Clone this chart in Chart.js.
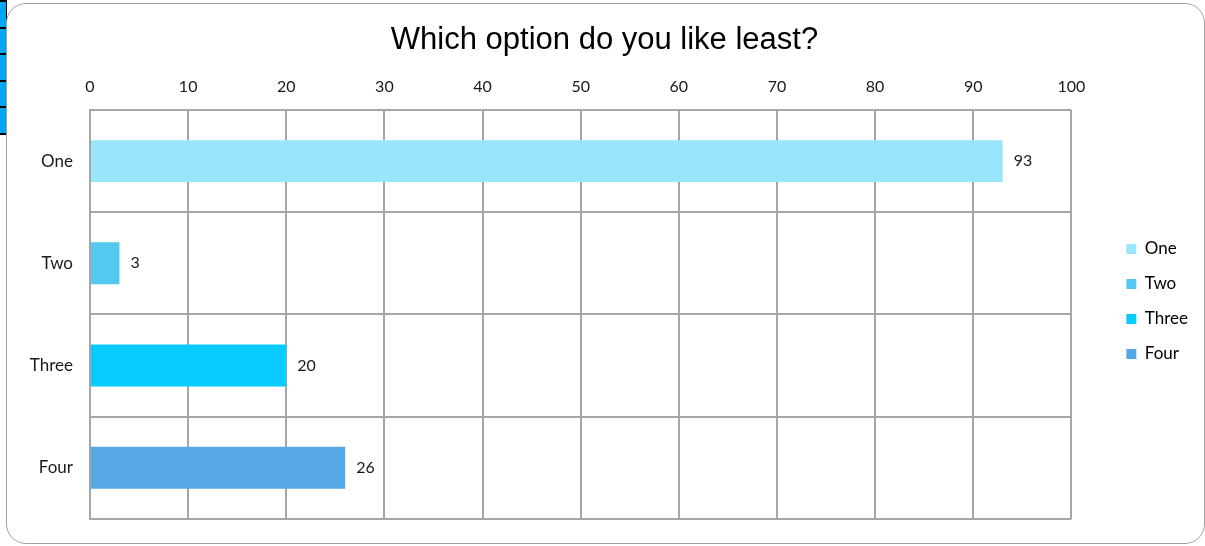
<!DOCTYPE html>
<html>
<head>
<meta charset="utf-8">
<script src="https://cdn.jsdelivr.net/npm/chart.js@4"></script>
<style>
  html, body { margin: 0; padding: 0; background: #fff; }
  body { width: 1205px; height: 546px; position: relative; overflow: hidden; }
  #strip {
    position: absolute; left: 0; top: 0; width: 6px; height: 135px;
    background: repeating-linear-gradient(to bottom, #000 0, #000 2px, #00a6ee 2px, #00a6ee 26.6px);
    border-right: 1px solid #000;
  }
  #card {
    position: absolute; left: 6px; top: 3px; width: 1199px; height: 541px;
    border: 1px solid #a0a0a0; border-radius: 20px; box-sizing: border-box; background: #fff;
  }
  #wrap { position: absolute; left: 0; top: 0; width: 1205px; height: 546px; }
</style>
</head>
<body>
<div id="strip"></div>
<div id="card"></div>
<div id="wrap"><canvas id="myChart" width="1205" height="546"></canvas></div>
<script>
const categories = ['One', 'Two', 'Three', 'Four'];
const values = [93, 3, 20, 26];
const barColors = ['#99e5fc', '#55c8ef', '#08ccff', '#55a8e4'];
const xTicks = [0, 10, 20, 30, 40, 50, 60, 70, 80, 90, 100];

const textFont = 'Lato, "Open Sans", sans-serif';

// value labels at the end of each bar
const valueLabels = {
  id: 'valueLabels',
  afterDatasetsDraw(chart) {
    const ctx = chart.ctx;
    const meta = chart.getDatasetMeta(0);
    ctx.save();
    ctx.font = '16px ' + textFont;
    ctx.fillStyle = '#1a1a1a';
    ctx.textAlign = 'left';
    ctx.textBaseline = 'middle';
    meta.data.forEach((bar, i) => {
      ctx.fillText(String(values[i]), bar.x + 11, bar.y);
    });
    ctx.restore();
  }
};

// move legend and title a bit, as in the original
const boxShift = {
  id: 'boxShift',
  afterLayout(chart) {
    const lg = chart.legend;
    lg.left += 37; lg.right += 37;
    lg.top += 41; lg.bottom += 41;
    const t = chart.titleBlock;
    t.left += 24; t.right += 24;
  }
};

const ctx = document.getElementById('myChart').getContext('2d');
const chart = new Chart(ctx, {
  type: 'bar',
  data: {
    labels: categories,
    datasets: [{
      label: 'Which option do you like least?',
      data: values,
      backgroundColor: barColors,
      borderWidth: 0,
      barPercentage: 1,
      categoryPercentage: 0.41
    }]
  },
  options: {
    indexAxis: 'y',
    responsive: false,
    animation: false,
    layout: { padding: { left: 0, right: 44, top: 0, bottom: 25 } },
    scales: {
      x: {
        position: 'top',
        min: 0,
        max: 100,
        afterBuildTicks(scale) { scale.ticks = xTicks.map(v => ({ value: v })); },
        afterFit(scale) { scale.height = 50; },
        grid: { color: '#a6a6a6', lineWidth: 2, drawTicks: false },
        border: { display: false },
        ticks: { color: '#1a1a1a', font: { size: 16, family: textFont }, padding: 14 }
      },
      y: {
        afterFit(scale) { scale.width = 90; },
        grid: { color: '#a6a6a6', lineWidth: 2, drawTicks: false, offset: true },
        border: { display: true, color: '#a6a6a6', width: 2 },
        ticks: { color: '#1a1a1a', font: { size: 17, family: textFont }, padding: 17 }
      }
    },
    plugins: {
      title: {
        display: true,
        text: 'Which option do you like least?',
        color: '#000',
        font: { size: 31, family: '"Liberation Sans", Arial, sans-serif', weight: 'normal' },
        padding: { top: 22, bottom: 0.8 }
      },
      legend: {
        position: 'right',
        labels: {
          color: '#1a1a1a',
          font: { size: 17, family: textFont },
          boxWidth: 10,
          boxHeight: 10,
          padding: 18,
          generateLabels() {
            return categories.map((c, i) => ({
              text: c,
              fillStyle: barColors[i],
              strokeStyle: barColors[i],
              lineWidth: 0,
              hidden: false,
              index: i
            }));
          }
        }
      },
      tooltip: { enabled: false }
    }
  },
  plugins: [valueLabels, boxShift]
});
</script>
</body>
</html>
